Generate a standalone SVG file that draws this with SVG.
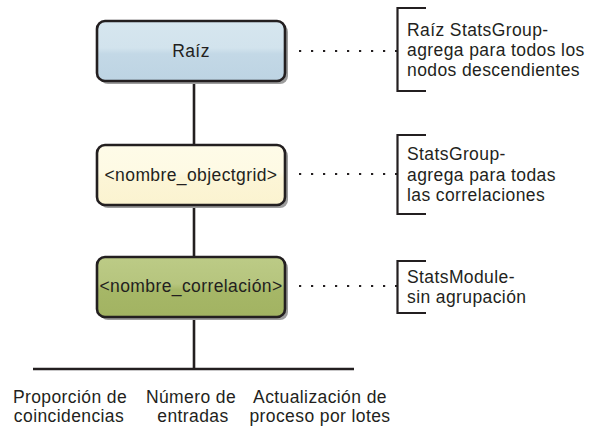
<svg xmlns="http://www.w3.org/2000/svg" width="589" height="429" viewBox="0 0 589 429">
<defs>
<linearGradient id="gBlue" x1="0" y1="0" x2="0" y2="1">
<stop offset="0" stop-color="#d6e6ef"/><stop offset="0.45" stop-color="#d2e3ed"/><stop offset="0.55" stop-color="#c3d8e6"/><stop offset="1" stop-color="#bdd4e3"/>
</linearGradient>
<linearGradient id="gYellow" x1="0" y1="0" x2="0" y2="1">
<stop offset="0" stop-color="#fefbe8"/><stop offset="0.45" stop-color="#fefae4"/><stop offset="0.55" stop-color="#fcf5d6"/><stop offset="1" stop-color="#fbf3d0"/>
</linearGradient>
<linearGradient id="gGreen" x1="0" y1="0" x2="0" y2="1">
<stop offset="0" stop-color="#bccb86"/><stop offset="0.45" stop-color="#b6c57e"/><stop offset="0.55" stop-color="#a6b767"/><stop offset="1" stop-color="#a2b362"/>
</linearGradient>
</defs>
<style>
text{font-family:"Liberation Sans",Arial,sans-serif;font-size:17.5px;letter-spacing:0.4px;fill:#231f20}
.c{text-anchor:middle}
.box{stroke:#231f20;stroke-width:2.6}
.shadow{fill:#9d9d9d}
.conn{stroke:#231f20;stroke-width:2.6;fill:none}
.dot{stroke:#231f20;stroke-width:2.2;stroke-dasharray:2.2 9.8;fill:none}
.br{stroke:#231f20;stroke-width:2.2;fill:none}
</style>
<g id="connectors">
<line class="conn" x1="194" y1="82" x2="194" y2="145"/>
<line class="conn" x1="194" y1="206" x2="194" y2="257"/>
<line class="conn" x1="194" y1="317" x2="194" y2="369"/>
<line class="conn" x1="33" y1="369" x2="354" y2="369"/>
<line class="dot" x1="299" y1="51" x2="397" y2="51"/>
<line class="dot" x1="299" y1="174" x2="397" y2="174"/>
<line class="dot" x1="299" y1="286" x2="397" y2="286"/>
</g>
<g id="node-raiz">
<rect class="shadow" x="100" y="24" width="188" height="60" rx="8"/>
<rect class="box" x="97" y="21" width="188" height="60" rx="8" fill="url(#gBlue)"/>
<text class="c" x="191" y="57">Raíz</text>
</g>
<g id="node-objectgrid">
<rect class="shadow" x="100" y="148" width="188" height="60" rx="8"/>
<rect class="box" x="97" y="145" width="188" height="60" rx="8" fill="url(#gYellow)"/>
<text class="c" x="191" y="181">&lt;nombre_objectgrid&gt;</text>
</g>
<g id="node-correlacion">
<rect class="shadow" x="100" y="260" width="188" height="60" rx="8"/>
<rect class="box" x="97" y="257" width="188" height="60" rx="8" fill="url(#gGreen)"/>
<text class="c" x="191" y="292">&lt;nombre_correlación&gt;</text>
</g>
<g id="note-raiz">
<path class="br" d="M426,8 H397.5 V91 H426"/>
<text x="407" y="36">Raíz StatsGroup-</text>
<text x="407" y="56">agrega para todos los</text>
<text x="407" y="76">nodos descendientes</text>
</g>
<g id="note-objectgrid">
<path class="br" d="M426,135 H397.5 V214 H426"/>
<text x="407" y="160">StatsGroup-</text>
<text x="407" y="180.5">agrega para todas</text>
<text x="407" y="201">las correlaciones</text>
</g>
<g id="note-correlacion">
<path class="br" d="M426,261 H397.5 V313 H426"/>
<text x="407" y="283">StatsModule-</text>
<text x="407" y="303">sin agrupación</text>
</g>
<g id="leaf-proporcion">
<text class="c" x="70" y="403">Proporción de</text>
<text class="c" x="69" y="422">coincidencias</text>
</g>
<g id="leaf-numero">
<text class="c" x="191" y="403">Número de</text>
<text class="c" x="193" y="422">entradas</text>
</g>
<g id="leaf-actualizacion">
<text class="c" x="320" y="403">Actualización de</text>
<text class="c" x="320" y="422">proceso por lotes</text>
</g>
</svg>
